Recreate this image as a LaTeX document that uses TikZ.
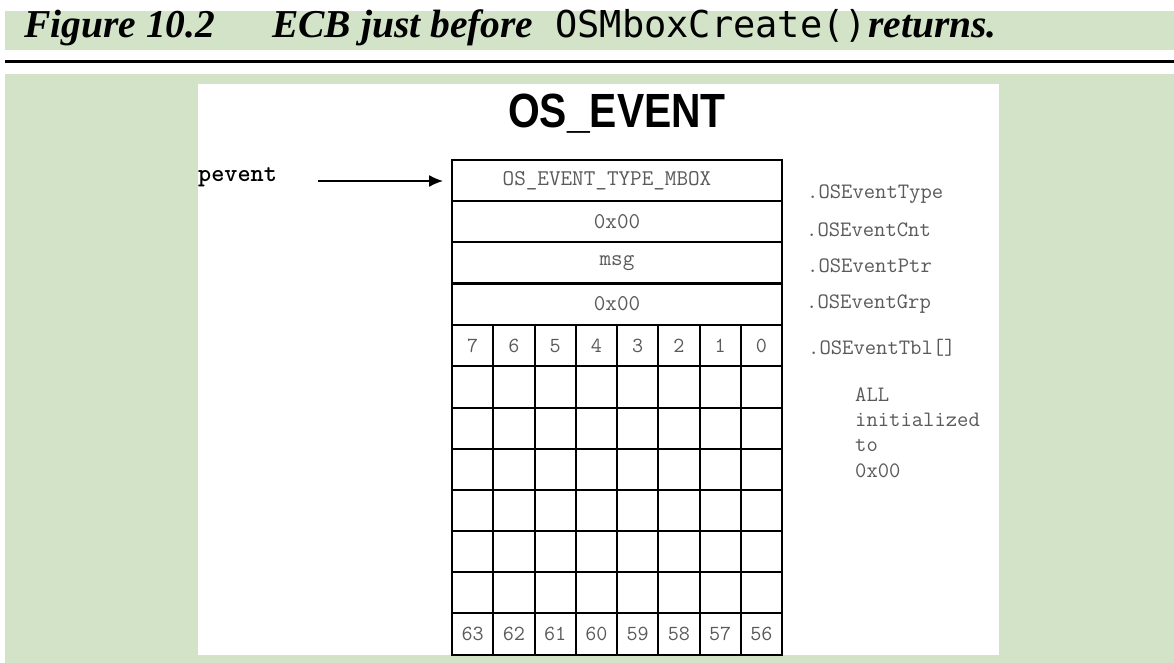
\documentclass[tikz,border=0pt]{standalone}
\usepackage{fontspec}
\setmainfont{Liberation Serif}
\newfontfamily\headsans{Liberation Sans}
\newfontfamily\codemono{DejaVu Sans Mono}
\usetikzlibrary{arrows.meta}
\definecolor{bggreen}{HTML}{D2E3C8}
\definecolor{txtgray}{HTML}{5A5A5A}
\begin{document}
\begin{tikzpicture}[x=1pt,y=-1pt,
  titlepart/.style={inner sep=0pt,anchor=base west,font=\fontsize{39.5}{44}\selectfont\bfseries\itshape},
  fieldrow/.style={draw,line width=2pt,minimum width=330pt,minimum height=41.17pt,inner sep=0pt,outer sep=0pt,
     font=\ttfamily\fontsize{22.5}{24}\selectfont,text=txtgray},
  bitcell/.style={draw,line width=2pt,minimum width=41.25pt,minimum height=41.17pt,inner sep=0pt,outer sep=0pt,
     font=\ttfamily\fontsize{21.5}{24}\selectfont,text=txtgray},
  fieldlabel/.style={inner sep=0pt,anchor=base west,font=\ttfamily\fontsize{22}{24}\selectfont,text=txtgray},
  ptrarrow/.style={line width=1.5pt,-{Latex[length=14pt,width=12pt]}}
]
\useasboundingbox (0,0) rectangle (1174,663);
\fill[white] (0,0) rectangle (1174,663);
\fill[bggreen] (5,11) rectangle (1174,50);
\draw[line width=2.5pt] (5,61.5) -- (1174,61.5);
\fill[bggreen] (5,74) rectangle (1174,663);
\fill[white] (198,84) rectangle (999,655);

% title
\node[titlepart] (t1) at (24,38) {Figure 10.2};
\node[titlepart] (t2) at (272,38) {ECB just before};
\node[inner sep=0pt,anchor=base west,font=\codemono\fontsize{37}{42}\selectfont] (t3) at (555,38) {OSMboxCreate()};
\node[titlepart] (t4) at (868,38) {returns.};

% heading
\node[inner sep=0pt,anchor=base,font=\headsans\bfseries\fontsize{48}{56}\selectfont,xscale=0.85] (head) at (617,128) {OS\_EVENT};

% field rows
\node[fieldrow] (r0) at (617,180.58) {\hspace*{-20pt}OS\_EVENT\_TYPE\_MBOX};
\node[fieldrow] (r1) at (617,221.75) {0x00};
\node[fieldrow] (r2) at (617,262.92) {msg};
\node[fieldrow] (r3) at (617,304.08) {0x00};

% bit grid
\foreach \r in {0,...,7}{
  \foreach \c in {0,...,7}{
    \pgfmathsetmacro{\cx}{452+41.25*(\c+0.5)}
    \pgfmathsetmacro{\cy}{325.25+41.17*(\r+0.5)}
    \pgfmathtruncatemacro{\toplab}{7-\c}
    \pgfmathtruncatemacro{\botlab}{63-\c}
    \ifnum\r=0
      \node[bitcell] (g\r-\c) at (\cx,\cy) {\toplab};
    \else\ifnum\r=7
      \node[bitcell] (g\r-\c) at (\cx,\cy) {\botlab};
    \else
      \node[bitcell] (g\r-\c) at (\cx,\cy) {};
    \fi\fi
  }
}

% pointer
\node[inner sep=0pt,anchor=base west,font=\ttfamily\bfseries\fontsize{25}{28}\selectfont] (pevent) at (198,182) {pevent};
\coordinate (pstart) at (318,181);
\draw[ptrarrow,shorten >=9pt] (pstart) -- (pstart -| r0.west);

% labels
\node[fieldlabel] (l0) at (807,198) {.OSEventType};
\node[fieldlabel] (l1) at (806,236) {.OSEventCnt};
\node[fieldlabel] (l2) at (807,272) {.OSEventPtr};
\node[fieldlabel] (l3) at (806,308) {.OSEventGrp};
\node[fieldlabel] (l4) at (808,354) {.OSEventTbl[]};
\node[fieldlabel] (n1) at (855,401) {ALL};
\node[fieldlabel] (n2) at (855,426) {initialized};
\node[fieldlabel] (n3) at (855,451) {to};
\node[fieldlabel] (n4) at (855,477) {0x00};
\end{tikzpicture}
\end{document}
